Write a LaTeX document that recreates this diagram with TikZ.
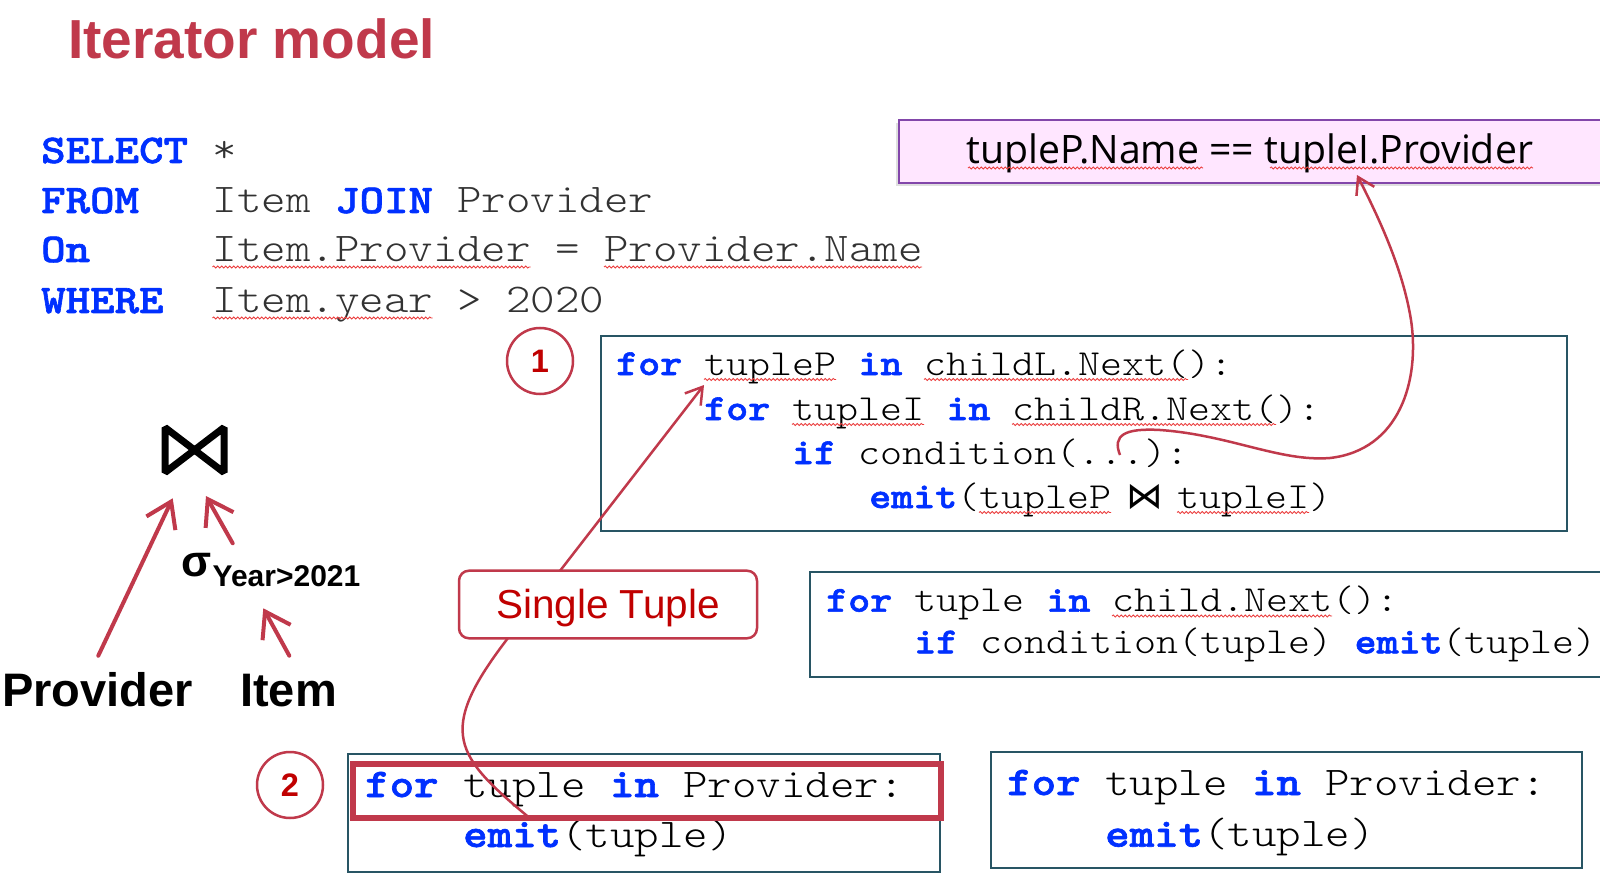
\documentclass[tikz,border=0pt]{standalone}
\usepackage{fontspec}
\setmainfont{Liberation Sans}
\newfontfamily\codefont[FakeStretch=1.142857, BoldFeatures={FakeBold=1.5}]{Latin Modern Mono Light}
\newfontfamily\pinkfont{Open Sans}
\newfontfamily\symfont{DejaVu Sans}
\usetikzlibrary{arrows.meta,shadows,decorations.pathmorphing}
\definecolor{accent}{RGB}{192,57,75}
\definecolor{darkred}{RGB}{192,0,0}
\definecolor{kwblue}{RGB}{0,48,255}
\definecolor{boxteal}{RGB}{40,85,100}
\definecolor{pinkfill}{RGB}{255,230,255}
\definecolor{pinkedge}{RGB}{130,70,170}
\definecolor{sqlgrey}{RGB}{50,50,50}
\definecolor{spell}{RGB}{235,60,60}
\newcommand{\kw}[1]{\textcolor{kwblue}{\bfseries #1}}
\newcommand{\bowsym}{\makebox[0.6em]{\symfont ⋈}}
\begin{document}
\begin{tikzpicture}[x=1pt,y=-1pt,
  txt/.style={inner sep=0pt, anchor=base west},
  sqlc/.style={txt, font=\codefont\fontsize{40.8}{48}\selectfont, text=sqlgrey},
  codeA/.style={txt, font=\codefont\fontsize{36.7}{44}\selectfont},
  codeB/.style={txt, font=\codefont\fontsize{40.8}{48}\selectfont},
  codebox/.style={draw=boxteal, line width=2pt, anchor=north west, inner sep=0pt},
  redarrow/.style={draw=accent, line width=4pt, line cap=round, -{Straight Barb[length=24pt,width=32pt]}},
  thinarrow/.style={draw=accent, line width=2.5pt, -{Straight Barb[length=16pt,width=20pt]}},
  squig/.style={draw=spell, line width=0.8pt, decorate, decoration={snake, amplitude=1.1pt, segment length=4pt}},
  numcircle/.style={circle, draw=accent, line width=2.5pt, minimum size=66pt, inner sep=0pt, text=darkred, font=\bfseries\fontsize{32.5}{36}\selectfont},
  treelabel/.style={txt, font=\bfseries\fontsize{47}{50}\selectfont},
]
\useasboundingbox (0,0) rectangle (1600,874);
\fill[white] (0,0) rectangle (1600,874);

% title
\node[txt, font=\bfseries\fontsize{55}{60}\selectfont, text=accent] (title) at (68,59) {Iterator model};

% SQL
\node[sqlc] (k1) at (41,163) {\kw{SELECT}};
\node[sqlc] (k2) at (41,213) {\kw{FROM}};
\node[sqlc] (k3) at (41,262) {\kw{On}};
\node[sqlc] (k4) at (41,313) {\kw{WHERE}};
\node[sqlc] (v1) at (212.5,163) {*};
\node[sqlc] (v2) at (212.5,213) {Item \kw{JOIN} Provider};
\node[sqlc] (v3) at (212.5,262) {Item.Provider = Provider.Name};
\node[sqlc] (v4) at (212.5,313) {Item.year > 2020};
\draw[squig] (212.5,267) -- (530.5,267);
\draw[squig] (604,267) -- (922,267);
\draw[squig] (212.5,318) -- (432.5,318);

% condition box
\node[draw=pinkedge, fill=pinkfill, line width=2pt, anchor=north west, inner sep=0pt,
      minimum width=730pt, minimum height=63pt,
      drop shadow={shadow xshift=-3pt, shadow yshift=-3pt, opacity=0.25}] (cond) at (898,119) {};
\node[txt, font=\pinkfont\fontsize{39.2}{44}\selectfont] (condtxt) at (966.5,163.3) {tupleP.Name == tupleI.Provider};
\draw[squig] (968,168) -- (1203,168);
\draw[squig] (1270,168) -- (1533,168);

% join code box
\node[codebox, minimum width=966pt, minimum height=195pt] (box1) at (600,335) {};
\node[codeA] (l11) at (616,375) {\kw{for} tupleP \kw{in} childL.Next():};
\node[codeA] (l12) at (704,420) {\kw{for} tupleI \kw{in} childR.Next():};
\node[codeA] (l13) at (792,464) {\kw{if} condition(...):};
\node[codeA] (l14) at (869,508) {\kw{emit}(tupleP \bowsym{} tupleI)};
\draw[squig] (704,379.5) -- (836,379.5);
\draw[squig] (924,379.5) -- (1188,379.5);
\draw[squig] (792,424.5) -- (924,424.5);
\draw[squig] (1012,424.5) -- (1276,424.5);
\draw[squig] (979,512.5) -- (1111,512.5);
\draw[squig] (1177,512.5) -- (1309,512.5);

% selection code box
\node[codebox, minimum width=820pt, minimum height=105pt] (box2) at (809,571) {};
\node[codeA] (l21) at (826,611.7) {\kw{for} tuple \kw{in} child.Next():};
\node[codeA] (l22) at (914,653.3) {\kw{if} condition(tuple) \kw{emit}(tuple)};
\draw[squig] (1112,616) -- (1332,616);

% scan boxes
\node[codebox, minimum width=592pt, minimum height=118pt] (box3) at (347,753) {};
\node[codeB] (l31) at (365,797) {\kw{for} tuple \kw{in} Provider:};
\node[codeB] (l32) at (463,847) {\kw{emit}(tuple)};
\node[draw=accent, line width=6pt, anchor=north west, inner sep=0pt,
      minimum width=588pt, minimum height=54pt] (hl) at (350,761) {};

\node[codebox, minimum width=591pt, minimum height=116pt] (box4) at (990,751) {};
\node[codeB] (l41) at (1007,795) {\kw{for} tuple \kw{in} Provider:};
\node[codeB] (l42) at (1105,846.7) {\kw{emit}(tuple)};

% numbered circles
\node[numcircle] (n1) at (540,361) {1};
\node[numcircle] (n2) at (290,785) {2};

% operator tree
\node[minimum width=66pt, minimum height=52pt, inner sep=0pt] (join) at (194.5,450) {};
\draw[line width=7pt, line join=bevel]
  ([shift={(-29.5,-22.5)}]join.center) -- (join.center) -- ([shift={(-29.5,22.5)}]join.center) -- cycle
  ([shift={(29.5,-22.5)}]join.center) -- (join.center) -- ([shift={(29.5,22.5)}]join.center) -- cycle;
\node[txt, font=\bfseries\fontsize{44}{48}\selectfont] (sig) at (181,576.7) {σ};
\node[txt, font=\bfseries\fontsize{30}{34}\selectfont] (sub) at (212.5,586.7) {Year>2021};
\node[treelabel] (prov) at (2,706.7) {Provider};
\node[treelabel] (item) at (240,706.7) {Item};

\coordinate (provA) at (98.3,655.7);
\coordinate (joinL) at (172.7,498.3);
\coordinate (sigA) at (232.7,543.3);
\coordinate (joinR) at (206,496);
\coordinate (itemA) at (289.3,655.7);
\coordinate (sigB) at (263.3,608.3);
\draw[redarrow] (provA) -- (joinL);
\draw[redarrow] (sigA) -- (joinR);
\draw[redarrow] (itemA) -- (sigB);

% curved arrows
\coordinate (srcA) at (532,820);
\coordinate (bendA) at (508,638);
\coordinate (tipA) at (704,385);
\draw[thinarrow] (srcA) .. controls (455,756) and (435,733) .. (bendA) -- (tipA);

\node[draw=accent, line width=2.5pt, rounded corners=10pt, fill=white, inner sep=0pt,
      minimum width=298pt, minimum height=67.6pt, text height=30pt, text depth=2.4pt,
      text=darkred, font=\fontsize{40.5}{46}\selectfont] (single) at (608,604.5) {Single Tuple};

\coordinate (srcB) at (1120,455);
\coordinate (tipB) at (1357,175);
\draw[thinarrow] (srcB) .. controls (1112,435) and (1125,428) .. (1160,430)
  .. controls (1230,435) and (1280,462) .. (1330,458)
  .. controls (1400,450) and (1420,380) .. (1411,320)
  .. controls (1403,270) and (1380,220) .. (tipB);
\end{tikzpicture}
\end{document}
